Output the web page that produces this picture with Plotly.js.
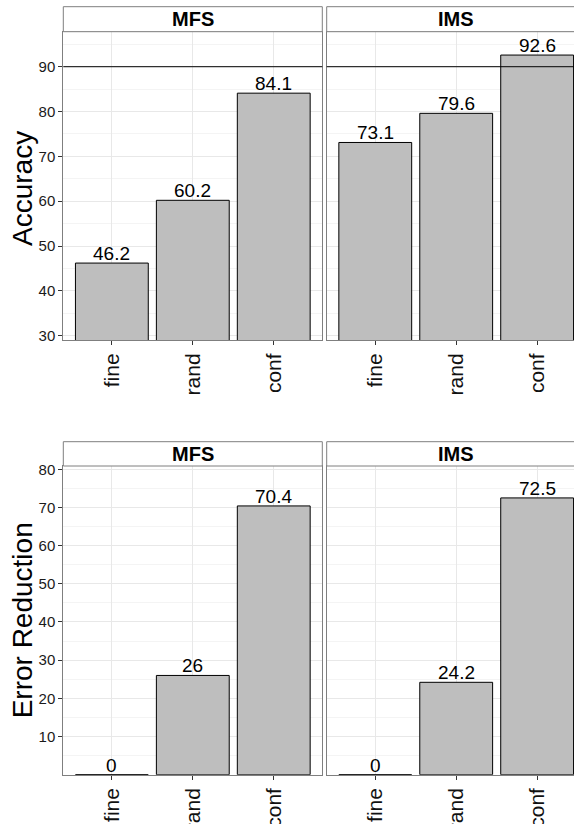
<!DOCTYPE html>
<html>
<head>
<meta charset="utf-8">
<script src="https://cdn.plot.ly/plotly-3.0.1.min.js"></script>
<style>
html,body{margin:0;padding:0;overflow:hidden;background:#fff;}
#chart{width:590px;height:824px;}
</style>
</head>
<body>
<div id="chart"></div>
<script>
// ---- data ----
const categories = ["fine", "rand", "conf"];
const panels = ["MFS", "IMS"];
const accuracyMFS = [46.2, 60.2, 84.1];
const accuracyIMS = [73.1, 79.6, 92.6];
const errRedMFS = [0, 26, 70.4];
const errRedIMS = [0, 24.2, 72.5];
const accuracyRefLine = 90;
const yTitles = ["Accuracy", "Error Reduction"];
const topTicks = [30, 40, 50, 60, 70, 80, 90];
const topMinor = [35, 45, 55, 65, 75, 85, 95];
const botTicks = [10, 20, 30, 40, 50, 60, 70, 80];
const botMinor = [5, 15, 25, 35, 45, 55, 65, 75];

// ---- geometry ----
const W = 590, H = 824;
const px = x => x / W;
const py = y => 1 - y / H;
const xL = [px(63.3), px(322.3)];
const xR = [px(326.7), px(585.7)];
const yTop = [py(340), py(31.7)];
const yBot = [py(774.7), py(466)];
const stripTop = [py(31.7), py(6.7)];
const stripBot = [py(466), py(441.7)];

const FONT = "Liberation Sans, Arial, Helvetica, sans-serif";
const barStyle = {color: "#bebebe", line: {color: "#000", width: 1}};

const seriesList = [
  {vals: accuracyMFS, xa: "x", ya: "y"},
  {vals: accuracyIMS, xa: "x2", ya: "y2"},
  {vals: errRedMFS, xa: "x3", ya: "y3"},
  {vals: errRedIMS, xa: "x4", ya: "y4"}
];

const traces = seriesList.map(s => ({
  type: "bar", x: categories, y: s.vals, xaxis: s.xa, yaxis: s.ya,
  marker: barStyle, width: 0.9, hoverinfo: "skip", showlegend: false
}));

function xAxis(domain, anchor) {
  return {
    domain: domain, anchor: anchor, type: "category", range: [-0.6, 2.6],
    showline: true, mirror: true, linecolor: "#7f7f7f", linewidth: 1,
    showgrid: true, gridcolor: "#e8e8e8", gridwidth: 1, zeroline: false,
    ticks: "outside", ticklen: 4, tickcolor: "#333", tickwidth: 1,
    tickangle: -90, tickfont: {family: FONT, size: 21, color: "#111"},
    fixedrange: true
  };
}
function yAxis(domain, anchor, range, labels, tv, mv) {
  return {
    domain: domain, anchor: anchor, range: range,
    showline: true, mirror: true, linecolor: "#7f7f7f", linewidth: 1,
    showgrid: true, gridcolor: "#e8e8e8", gridwidth: 1, zeroline: false,
    tickmode: "array", tickvals: tv,
    minor: {tickmode: "array", tickvals: mv, showgrid: true, gridcolor: "#f4f4f4", gridwidth: 1, ticks: ""},
    ticks: labels ? "outside" : "", ticklen: 4, tickcolor: "#333", tickwidth: 1,
    showticklabels: labels,
    tickfont: {family: FONT, size: 15, color: "#1a1a1a"},
    fixedrange: true
  };
}

const topRange = [29.04, 97.81];
const botRange = [0, 80.86];

const annotations = [];
seriesList.forEach(s => {
  categories.forEach((c, i) => {
    annotations.push({
      x: c, y: s.vals[i], xref: s.xa, yref: s.ya,
      text: String(s.vals[i]), showarrow: false, yanchor: "bottom", yshift: -3,
      font: {family: FONT, size: 19, color: "#000"}
    });
  });
});

const shapes = [];
const strips = [
  {x: xL, y: stripTop, t: panels[0]}, {x: xR, y: stripTop, t: panels[1]},
  {x: xL, y: stripBot, t: panels[0]}, {x: xR, y: stripBot, t: panels[1]}
];
strips.forEach(st => {
  shapes.push({type: "rect", xref: "paper", yref: "paper",
    x0: st.x[0], x1: st.x[1], y0: st.y[0], y1: st.y[1],
    fillcolor: "#fff", line: {color: "#7f7f7f", width: 1}, layer: "above"});
  annotations.push({xref: "paper", yref: "paper",
    x: (st.x[0] + st.x[1]) / 2, y: (st.y[0] + st.y[1]) / 2,
    xanchor: "center", yanchor: "middle", showarrow: false,
    text: "<b>" + st.t + "</b>", font: {family: FONT, size: 20, color: "#000"}});
});

// horizontal reference line at 90 on top panels
[["x", "y"], ["x2", "y2"]].forEach(([xa, ya]) => {
  shapes.push({type: "line", xref: xa + " domain", yref: ya,
    x0: 0, x1: 1, y0: accuracyRefLine, y1: accuracyRefLine,
    line: {color: "#000", width: 1}, layer: "above"});
});

// y-axis titles
annotations.push({xref: "paper", yref: "paper", x: px(22), y: py(189),
  xanchor: "center", yanchor: "middle", textangle: -90, showarrow: false,
  text: yTitles[0], font: {family: FONT, size: 28, color: "#000"}});
annotations.push({xref: "paper", yref: "paper", x: px(22), y: (yBot[0] + yBot[1]) / 2,
  xanchor: "center", yanchor: "middle", textangle: -90, showarrow: false,
  text: yTitles[1], font: {family: FONT, size: 28, color: "#000"}});

const layout = {
  width: W, height: H, autosize: false,
  margin: {l: 0, r: 0, t: 0, b: 0, pad: 0},
  paper_bgcolor: "#fff", plot_bgcolor: "#fff",
  bargap: 0.1, showlegend: false,
  font: {family: FONT},
  xaxis: xAxis(xL, "y"), xaxis2: xAxis(xR, "y2"),
  xaxis3: xAxis(xL, "y3"), xaxis4: xAxis(xR, "y4"),
  yaxis: yAxis(yTop, "x", topRange, true, topTicks, topMinor),
  yaxis2: yAxis(yTop, "x2", topRange, false, topTicks, topMinor),
  yaxis3: yAxis(yBot, "x3", botRange, true, botTicks, botMinor),
  yaxis4: yAxis(yBot, "x4", botRange, false, botTicks, botMinor),
  shapes: shapes, annotations: annotations
};

Plotly.newPlot("chart", traces, layout, {staticPlot: true, displayModeBar: false});
</script>
</body>
</html>
